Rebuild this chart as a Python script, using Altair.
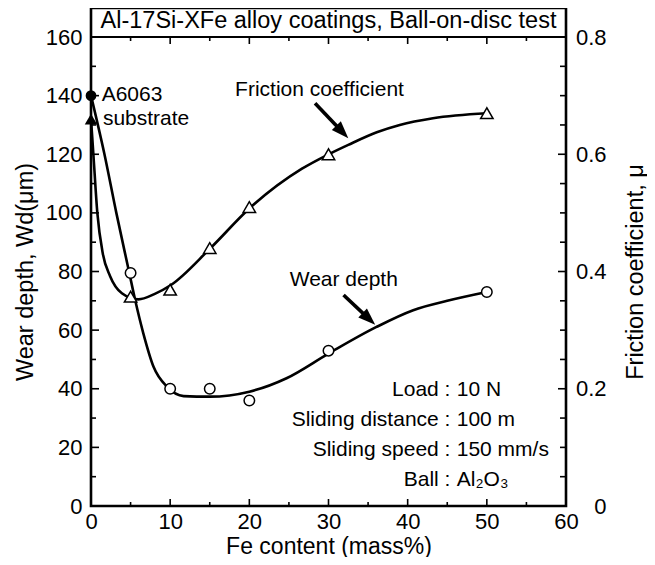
import altair as alt
import pandas as pd

# ---------------- values ----------------
fe_content = [0, 5, 10, 15, 20, 30, 50]
wear_depth = [140, 79.5, 40, 40, 36, 53, 73]
friction_coef = [0.66, 0.357, 0.369, 0.44, 0.51, 0.60, 0.67]
substrate_flag = [True, False, False, False, False, False, False]

# hand-drawn fitted curves
wear_fit_fe = [0, 1.7, 3.2, 4.8, 5.6, 6.6, 7.9, 9.6, 11.7, 15, 20, 24.7, 30, 36, 40.7, 45, 50]
wear_fit_wd = [140, 120, 100, 80, 70, 59, 47.5, 40.7, 37.5, 37.3, 39, 43.6, 52, 61, 66.8, 70, 73]
fric_fit_fe = [0, 0.3, 0.8, 1.5, 2.4, 3.9, 6, 8, 10.1, 15.1, 20, 26.6, 30.1, 32.5, 36.1, 39, 43.2, 50]
fric_fit_mu = [0.66, 0.60, 0.50, 0.43, 0.3925, 0.363, 0.3525, 0.3615, 0.377, 0.44, 0.5075,
               0.575, 0.6005, 0.616, 0.6375, 0.65, 0.6615, 0.67]

x_major = [0, 10, 20, 30, 40, 50, 60]
x_minor = [5, 15, 25, 35, 45, 55]
wd_major = [0, 20, 40, 60, 80, 100, 120, 140, 160]
wd_minor = [10, 30, 50, 70, 90, 110, 130, 150]
mu_major = [0, 0.2, 0.4, 0.6, 0.8]
mu_minor = [0.05, 0.1, 0.15, 0.25, 0.3, 0.35, 0.45, 0.5, 0.55, 0.65, 0.7, 0.75]

title_text = "Al-17Si-XFe alloy coatings, Ball-on-disc test"
title_x, title_y = 30, 165.5

note_text = ["A6063", "substrate", "Friction coefficient", "Wear depth"]
note_x = [1.35, 1.5, 18.2, 25.1]
note_y = [140.3, 132, 142, 77.1]

cond_label = ["Load :", "Sliding distance :", "Sliding speed :", "Ball :"]
cond_value = ["10 N", "100 m", "150 mm/s", "Al\u2082O\u2083"]
cond_y = [39.5, 29.3, 19.0, 8.9]
cond_colon_x = 45.4
cond_value_x = 46.2

arrow_x = [28.3, 31.9]
arrow_y = [137.4, 72.0]
arrow_tip_x = [32.5, 35.9]
arrow_tip_y = [125.5, 61.8]
arrow_angle = [136.4, 133.4]

# ---------------- layout ----------------
FONT = "Liberation Sans"
PLOT_W, PLOT_H = 475, 498
WD_TOP = 169.9
MU_TOP = WD_TOP / 200.0
TOP160_PX = PLOT_H * (1 - 160 / WD_TOP)
TITLE_MID = (TOP160_PX + PLOT_H) / 2

xs = alt.Scale(domain=[0, 60], nice=False, zero=False)


def ywd(field, axis=None):
    return alt.Y(field, scale=alt.Scale(domain=[0, WD_TOP], nice=False, zero=False), axis=axis)


def ymu(field, axis=None):
    return alt.Y(field, scale=alt.Scale(domain=[0, MU_TOP], nice=False, zero=False), axis=axis)


pts = pd.DataFrame({"fe": fe_content, "wd": wear_depth, "mu": friction_coef, "sub": substrate_flag})
wear_fit = pd.DataFrame({"fe": wear_fit_fe, "wd": wear_fit_wd})
fric_fit = pd.DataFrame({"fe": fric_fit_fe, "mu": fric_fit_mu})

# --- wear depth (left axis) ---
wear_line = alt.Chart(wear_fit).mark_line(
    color="black", strokeWidth=2.6, interpolate="monotone"
).encode(
    x=alt.X("fe:Q", scale=xs, axis=alt.Axis(
        values=x_major, title="Fe content (mass%)", labelPadding=5, tickSize=0,
        labelFlush=False, titleY=47, titleBaseline="alphabetic", titleFontSize=23)),
    y=ywd("wd:Q", alt.Axis(
        orient="left", values=wd_major, title="Wear depth, Wd(\u03bcm)", labelPadding=9, tickSize=0,
        labelFlush=False, titleAngle=270, titleBaseline="bottom", titleAlign="center",
        titleX=-54, titleY=TITLE_MID)),
)

wear_open = alt.Chart(pts).transform_filter("!datum.sub").mark_point(
    shape="circle", size=110, filled=True, fill="white", stroke="black", strokeWidth=1.5, opacity=1
).encode(x=alt.X("fe:Q", scale=xs), y=ywd("wd:Q"))

wear_filled = alt.Chart(pts).transform_filter("datum.sub").mark_point(
    shape="circle", size=115, filled=True, color="black", opacity=1
).encode(x=alt.X("fe:Q", scale=xs), y=ywd("wd:Q"))

box_line = alt.Chart(pd.DataFrame({"v": [160]})).mark_rule(color="black", strokeWidth=2).encode(
    y=ywd("v:Q"))

title_mark = alt.Chart(pd.DataFrame({"t": [title_text], "x": [title_x], "y": [title_y]})).mark_text(
    font=FONT, fontSize=23.5, color="black", align="center", baseline="middle"
).encode(x=alt.X("x:Q", scale=xs), y=ywd("y:Q"), text="t:N")

notes = alt.Chart(pd.DataFrame({"t": note_text, "x": note_x, "y": note_y})).mark_text(
    font=FONT, fontSize=21, color="black", align="left", baseline="middle"
).encode(x=alt.X("x:Q", scale=xs), y=ywd("y:Q"), text="t:N")

cond_df = pd.DataFrame({"lab": cond_label, "val": cond_value, "y": cond_y,
                        "xl": [cond_colon_x] * 4, "xv": [cond_value_x] * 4})
cond_left = alt.Chart(cond_df).mark_text(
    font=FONT, fontSize=21, color="black", align="right", baseline="middle"
).encode(x=alt.X("xl:Q", scale=xs), y=ywd("y:Q"), text="lab:N")
cond_right = alt.Chart(cond_df).mark_text(
    font=FONT, fontSize=21, color="black", align="left", baseline="middle"
).encode(x=alt.X("xv:Q", scale=xs), y=ywd("y:Q"), text="val:N")

arr = pd.DataFrame({"x": arrow_x, "y": arrow_y, "tx": arrow_tip_x, "ty": arrow_tip_y, "ang": arrow_angle})
arr["sx"] = arr["x"] + 0.75 * (arr["tx"] - arr["x"])
arr["sy"] = arr["y"] + 0.75 * (arr["ty"] - arr["y"])
arrow_shaft = alt.Chart(arr).mark_rule(color="black", strokeWidth=3.6, strokeCap="butt").encode(
    x=alt.X("x:Q", scale=xs), y=ywd("y:Q"), x2="sx:Q", y2="sy:Q")
arrow_head = alt.Chart(arr).mark_point(
    shape="M0,0L0.72,2L-0.72,2Z", size=300, filled=True, color="black", opacity=1
).encode(x=alt.X("tx:Q", scale=xs), y=ywd("ty:Q"), angle=alt.Angle("ang:Q", scale=None))


def hticks(values, y0, y1):
    return alt.Chart(pd.DataFrame({"v": values})).mark_rule(color="black", strokeWidth=1.6).encode(
        x=alt.X("v:Q", scale=xs), y=alt.value(y0), y2=alt.value(y1))


bottom_major = hticks(x_major, PLOT_H, PLOT_H - 7)
bottom_minor = hticks(x_minor, PLOT_H, PLOT_H - 4)
top_major = hticks(x_major, TOP160_PX, TOP160_PX + 7)
top_minor = hticks(x_minor, TOP160_PX, TOP160_PX + 4)

left_major = alt.Chart(pd.DataFrame({"v": wd_major})).mark_rule(color="black", strokeWidth=1.6).encode(
    y=ywd("v:Q"), x=alt.value(0), x2=alt.value(8))
left_minor = alt.Chart(pd.DataFrame({"v": wd_minor})).mark_rule(color="black", strokeWidth=1.6).encode(
    y=ywd("v:Q"), x=alt.value(0), x2=alt.value(5))

# --- friction coefficient (right axis) ---
fric_line = alt.Chart(fric_fit).mark_line(
    color="black", strokeWidth=2.6, interpolate="monotone"
).encode(
    x=alt.X("fe:Q", scale=xs),
    y=ymu("mu:Q", alt.Axis(
        orient="right", values=mu_major, title="Friction coefficient, \u03bc",
        labelExpr="datum.value == 0 ? '0' : format(datum.value, '.1f')",
        labelPadding=40, labelAlign="right", tickSize=0, labelFlush=False,
        titleAngle=270, titleBaseline="top",
        titleAlign="center", titleX=57, titleY=TITLE_MID)),
)
fric_open = alt.Chart(pts).transform_filter("!datum.sub").mark_point(
    shape="triangle-up", size=155, filled=True, fill="white", stroke="black", strokeWidth=1.5, opacity=1
).encode(x=alt.X("fe:Q", scale=xs), y=ymu("mu:Q"))
fric_filled = alt.Chart(pts).transform_filter("datum.sub").mark_point(
    shape="triangle-up", size=155, filled=True, color="black", opacity=1
).encode(x=alt.X("fe:Q", scale=xs), y=ymu("mu:Q"))
right_major = alt.Chart(pd.DataFrame({"v": mu_major})).mark_rule(color="black", strokeWidth=1.6).encode(
    y=ymu("v:Q"), x=alt.value(PLOT_W), x2=alt.value(PLOT_W - 8))
right_minor = alt.Chart(pd.DataFrame({"v": mu_minor})).mark_rule(color="black", strokeWidth=1.6).encode(
    y=ymu("v:Q"), x=alt.value(PLOT_W), x2=alt.value(PLOT_W - 6))

chart = alt.layer(
    wear_line, fric_line, box_line, bottom_major, bottom_minor, top_major, top_minor,
    left_major, left_minor, right_major, right_minor,
    title_mark, notes, cond_left, cond_right, arrow_shaft, arrow_head,
    wear_open, wear_filled, fric_open, fric_filled,
).resolve_scale(y="independent").properties(
    width=PLOT_W, height=PLOT_H,
    autosize=alt.AutoSizeParams(type="none"),
    padding={"left": 83, "top": 0, "right": 81, "bottom": 51},
    background="white",
).configure_view(
    stroke="black", strokeWidth=2.6
).configure_axis(
    grid=False, ticks=False, domain=False, labelFont=FONT, titleFont=FONT,
    labelColor="black", titleColor="black", titleFontWeight="normal",
    labelFontSize=22, titleFontSize=23.5, labelOverlap=False
)

chart.save("out.html", embed_options={"renderer": "svg", "actions": False})
